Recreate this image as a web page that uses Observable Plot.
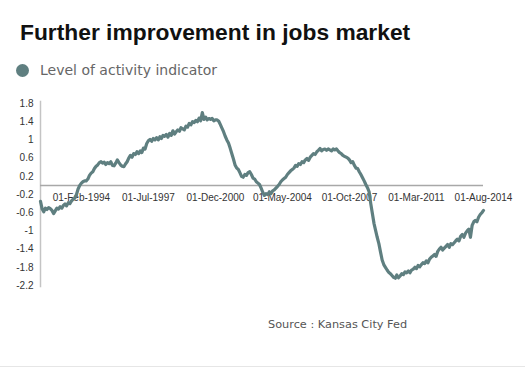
<!DOCTYPE html>
<html>
<head>
<meta charset="utf-8">
<script src="https://cdn.jsdelivr.net/npm/d3@7"></script>
<script src="https://cdn.jsdelivr.net/npm/@observablehq/plot@0.6"></script>
<style>
  html, body { margin: 0; padding: 0; background: #fff; }
  #page { position: relative; width: 525px; height: 367px; overflow: hidden; border-bottom: 1px solid #e6e6e6; box-sizing: border-box; }
  #title { position: absolute; left: 20px; top: 19px; font-family: "Liberation Sans", Arial, sans-serif; font-weight: bold; font-size: 22.8px; color: #111; white-space: nowrap; }
  #legend { position: absolute; left: 16px; top: 62px; font-family: "DejaVu Sans", Verdana, sans-serif; font-size: 14px; color: #666; white-space: nowrap; display: flex; align-items: center; }
  #legend .dot { width: 13px; height: 13px; border-radius: 50%; background: #5f7f80; margin-right: 11px; }
  #chart { position: absolute; left: 0; top: 90px; }
  #source { position: absolute; left: 268px; top: 318px; font-family: "DejaVu Sans", Verdana, sans-serif; font-size: 11.3px; color: #555; white-space: nowrap; }
</style>
</head>
<body>
<div id="page">
  <div id="title">Further improvement in jobs market</div>
  <div id="legend"><span class="dot"></span><span>Level of activity indicator</span></div>
  <div id="chart"></div>
  <div id="source">Source : Kansas City Fed</div>
</div>
<script>
// Monthly values, Jan 1992 .. Aug 2014 (Kansas City Fed LMCI, level of activity)
const startYear = 1992;
const values = [
  // 1992
  -0.35, -0.52, -0.58, -0.50, -0.53, -0.49, -0.51, -0.55, -0.62, -0.56, -0.50, -0.52,
  // 1993
  -0.47, -0.50, -0.44, -0.41, -0.45, -0.38, -0.40, -0.34, -0.30, -0.28, -0.20, -0.08,
  // 1994
  0.00, 0.05, 0.08, 0.10, 0.10, 0.14, 0.22, 0.27, 0.30, 0.37, 0.42, 0.45,
  // 1995
  0.50, 0.52, 0.49, 0.51, 0.46, 0.50, 0.48, 0.52, 0.44, 0.43, 0.49, 0.56,
  // 1996
  0.50, 0.45, 0.42, 0.41, 0.47, 0.52, 0.60, 0.66, 0.62, 0.70, 0.68, 0.74,
  // 1997
  0.70, 0.76, 0.72, 0.82, 0.80, 0.92, 0.98, 1.01, 0.97, 1.03, 1.00, 1.05,
  // 1998
  1.00, 1.07, 1.03, 1.10, 1.08, 1.12, 1.06, 1.14, 1.10, 1.20, 1.13, 1.18,
  // 1999
  1.22, 1.19, 1.27, 1.24, 1.22, 1.30, 1.28, 1.36, 1.33, 1.40, 1.38, 1.43,
  // 2000
  1.40, 1.48, 1.42, 1.60, 1.45, 1.50, 1.44, 1.47, 1.45, 1.47, 1.42, 1.44,
  // 2001
  1.44, 1.41, 1.34, 1.26, 1.18, 1.08, 1.00, 0.93, 0.82, 0.70, 0.58, 0.45,
  // 2002
  0.38, 0.35, 0.28, 0.20, 0.18, 0.24, 0.22, 0.28, 0.30, 0.24, 0.16, 0.14,
  // 2003
  0.08, 0.05, 0.02, -0.06, -0.15, -0.22, -0.18, -0.20, -0.14, -0.18, -0.12, -0.10,
  // 2004
  -0.06, -0.02, 0.02, 0.08, 0.12, 0.15, 0.18, 0.24, 0.28, 0.32, 0.35, 0.38,
  // 2005
  0.44, 0.42, 0.48, 0.46, 0.52, 0.50, 0.56, 0.59, 0.55, 0.62, 0.66, 0.70,
  // 2006
  0.68, 0.74, 0.77, 0.81, 0.76, 0.79, 0.80, 0.77, 0.80, 0.78, 0.76, 0.80,
  // 2007
  0.78, 0.80, 0.76, 0.72, 0.70, 0.66, 0.64, 0.62, 0.60, 0.56, 0.50, 0.52,
  // 2008
  0.44, 0.38, 0.37, 0.30, 0.24, 0.17, 0.10, 0.02, -0.05, -0.14, -0.40, -0.62,
  // 2009
  -0.84, -1.00, -1.14, -1.28, -1.46, -1.64, -1.74, -1.80, -1.86, -1.91, -1.94, -1.98,
  // 2010
  -2.02, -2.04, -1.97, -2.03, -1.99, -1.94, -1.96, -1.90, -1.92, -1.88, -1.92, -1.86,
  // 2011
  -1.84, -1.80, -1.83, -1.76, -1.79, -1.74, -1.70, -1.72, -1.66, -1.70, -1.62, -1.58,
  // 2012
  -1.55, -1.52, -1.56, -1.45, -1.40, -1.36, -1.42, -1.38, -1.34, -1.30, -1.36, -1.28,
  // 2013
  -1.30, -1.26, -1.22, -1.18, -1.22, -1.12, -1.08, -1.14, -1.05, -1.00, -0.96, -1.14,
  // 2014
  -0.88, -0.80, -0.77, -0.80, -0.70, -0.64, -0.60, -0.55
];
const xTickLabels = ["01-Feb-1994", "01-Jul-1997", "01-Dec-2000", "01-May-2004", "01-Oct-2007", "01-Mar-2011", "01-Aug-2014"];
const yTicks = [1.8, 1.4, 1, 0.6, 0.2, -0.2, -0.6, -1, -1.4, -1.8, -2.2];

const parse = d3.utcParse("%d-%b-%Y");
const data = values.map((v, i) => ({date: new Date(Date.UTC(startYear, i, 1)), value: v}));
const tickData = xTickLabels.map(s => ({date: parse(s), label: s}));
const x0 = data[0].date, x1 = data[data.length - 1].date;

const chart = Plot.plot({
  width: 525,
  height: 210,
  marginLeft: 40,
  marginRight: 42,
  marginTop: 13,
  marginBottom: 15,
  style: {fontFamily: "'Liberation Sans', Arial, sans-serif", fontSize: "10px", color: "#333", background: "transparent"},
  x: {type: "utc", domain: [x0, x1], axis: null},
  y: {domain: [-2.2, 1.8], axis: null},
  marks: [
    Plot.ruleX([x0], {y1: -2.25, y2: 1.85, stroke: "#c4c4c4", strokeWidth: 1.5}),
    Plot.ruleY([0], {x1: x0, x2: x1, stroke: "#a8a8a8", strokeWidth: 1.5}),
    Plot.text(yTicks, {x: x0, y: d => d, text: d => String(d), textAnchor: "end", dx: -7, fill: "#333", fontSize: 10}),
    Plot.text(tickData, {x: "date", y: 0, text: "label", dy: 12, fill: "#333", fontSize: 10}),
    Plot.line(data, {x: "date", y: "value", stroke: "#5f7f80", strokeWidth: 3.2, strokeLinejoin: "round", strokeLinecap: "round"})
  ]
});
document.getElementById("chart").appendChild(chart);
</script>
</body>
</html>
